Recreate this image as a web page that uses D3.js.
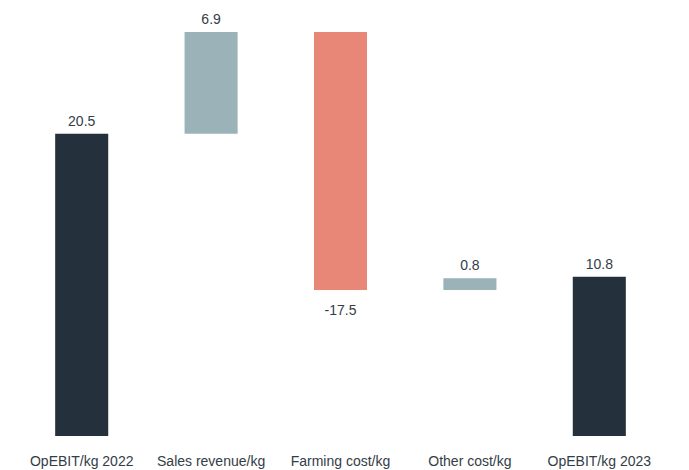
<!DOCTYPE html>
<html>
<head>
<meta charset="utf-8">
<script src="https://cdn.jsdelivr.net/npm/d3@7"></script>
<style>
  html, body { margin: 0; padding: 0; background: #ffffff; }
  svg { display: block; font-family: "Liberation Sans", Arial, sans-serif; }
</style>
</head>
<body>
<svg id="chart" width="689" height="470"></svg>
<script>
// Operating EBIT per kg bridge, 2022 -> 2023
const categories = ["OpEBIT/kg 2022", "Sales revenue/kg", "Farming cost/kg", "Other cost/kg", "OpEBIT/kg 2023"];
const changes    = [20.5, 6.9, -17.5, 0.8, 10.8];
const kinds      = ["total", "delta", "delta", "delta", "total"];
const valueLabels = ["20.5", "6.9", "-17.5", "0.8", "10.8"];

const colors = { total: "#24313c", up: "#9bb3b8", down: "#e88777" };

// Build start/end of each step in the bridge
let running = 0;
const steps = categories.map((c, i) => {
  let start, end;
  if (kinds[i] === "total") { start = 0; end = changes[i]; running = changes[i]; }
  else { start = running; end = running + changes[i]; running = end; }
  return { cat: c, start, end, value: changes[i], kind: kinds[i], label: valueLabels[i] };
});

const svg = d3.select("#chart");

const x = d3.scaleBand().domain(categories).range([17, 664]).paddingInner(0.59).paddingOuter(0.295);
const maxTop = d3.max(steps, d => Math.max(d.start, d.end));
const y = d3.scaleLinear().domain([0, maxTop]).range([436, 32]);

const fillOf = d => d.kind === "total" ? colors.total : (d.value >= 0 ? colors.up : colors.down);

svg.append("g").selectAll("rect").data(steps).join("rect")
  .attr("x", d => x(d.cat))
  .attr("width", x.bandwidth())
  .attr("y", d => y(Math.max(d.start, d.end)))
  .attr("height", d => Math.abs(y(d.start) - y(d.end)))
  .attr("fill", fillOf);

// Value labels: above positive steps, below negative ones
svg.append("g").selectAll("text").data(steps).join("text")
  .attr("x", d => x(d.cat) + x.bandwidth() / 2)
  .attr("y", d => d.value >= 0 ? y(Math.max(d.start, d.end)) - 8 : y(Math.min(d.start, d.end)) + 25)
  .attr("text-anchor", "middle")
  .attr("font-size", 14)
  .attr("fill", "#333d47")
  .text(d => d.label);

// Category axis without line or ticks
const xAxis = svg.append("g")
  .attr("transform", "translate(0,436)")
  .call(d3.axisBottom(x).tickSize(0).tickPadding(0));
xAxis.select(".domain").remove();
xAxis.selectAll("text")
  .attr("dy", null)
  .attr("y", 30)
  .attr("font-size", 14)
  .attr("font-family", "Liberation Sans, Arial, sans-serif")
  .attr("fill", "#333d47");
</script>
</body>
</html>
